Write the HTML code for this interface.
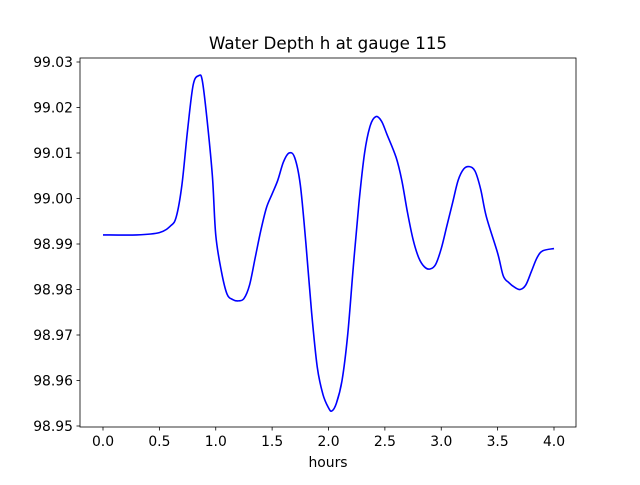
<!DOCTYPE html>
<html><head><meta charset="utf-8"><style>
body{margin:0;background:#fff;}
svg text{font-family:"DejaVu Sans","Liberation Sans",sans-serif;}
</style></head><body>
<svg width="640" height="480" xmlns="http://www.w3.org/2000/svg">
<rect width="640" height="480" fill="#fff"/>
<text x="328" y="49" font-size="16.7" text-anchor="middle">Water Depth h at gauge 115</text>
<g id="axes"></g>
<rect x="80" y="58" width="496" height="369" fill="none" stroke="#000" stroke-width="0.8"/>
<text x="328" y="467" font-size="13.9" text-anchor="middle">hours</text>
</svg>
<script>
const times=[0,0.3,0.5,0.6,0.65,0.7,0.75,0.8,0.85,0.88,0.92,0.97,1.0,1.05,1.1,1.15,1.2,1.25,1.3,1.35,1.4,1.45,1.5,1.55,1.6,1.65,1.7,1.75,1.8,1.85,1.9,1.95,2.0,2.03,2.07,2.12,2.17,2.22,2.27,2.32,2.37,2.42,2.47,2.52,2.6,2.65,2.7,2.75,2.8,2.85,2.9,2.95,3.0,3.05,3.1,3.15,3.2,3.25,3.3,3.35,3.4,3.5,3.55,3.6,3.65,3.7,3.75,3.8,3.85,3.9,4.0];
const depth=[98.992,98.992,98.9925,98.994,98.996,99.003,99.015,99.025,99.027,99.026,99.018,99.005,98.992,98.984,98.979,98.9778,98.9775,98.978,98.981,98.987,98.993,98.998,99.001,99.004,99.008,99.010,99.009,99.003,98.990,98.975,98.963,98.957,98.954,98.9533,98.955,98.960,98.970,98.985,98.999,99.010,99.016,99.018,99.017,99.014,99.009,99.004,98.997,98.991,98.987,98.985,98.9845,98.9855,98.989,98.994,98.999,99.004,99.0065,99.007,99.006,99.002,98.996,98.988,98.983,98.9815,98.9805,98.980,98.981,98.984,98.987,98.9885,98.989];
const xTicks=[0,0.5,1,1.5,2,2.5,3,3.5,4];
const xTickLabels=["0.0","0.5","1.0","1.5","2.0","2.5","3.0","3.5","4.0"];
const yTicks=[98.95,98.96,98.97,98.98,98.99,99.00,99.01,99.02,99.03];
const yTickLabels=["98.95","98.96","98.97","98.98","98.99","99.00","99.01","99.02","99.03"];
const NS="http://www.w3.org/2000/svg";
const X=t=>103+t*112.75;
const Y=v=>426-(v-98.95)/0.01*45.5;
const g=document.getElementById('axes');
function mk(tag,attrs){const e=document.createElementNS(NS,tag);for(const k in attrs)e.setAttribute(k,attrs[k]);g.appendChild(e);return e;}
xTicks.forEach((t,i)=>{
 const l=mk('line',{x1:X(t),x2:X(t),y1:427,y2:430.5,stroke:'#000','stroke-width':0.8});
 
 
 const tx=mk('text',{x:X(t),y:446,'font-size':13.9,'text-anchor':'middle'});
 tx.textContent=xTickLabels[i];
 
 
});
yTicks.forEach((v,i)=>{
 const l=mk('line',{x1:76.5,x2:80,y1:Y(v),y2:Y(v),stroke:'#000','stroke-width':0.8});
 
 
 const tx=mk('text',{x:73,y:Y(v)+5,'font-size':13.9,'text-anchor':'end'});
 tx.textContent=yTickLabels[i];
 
 
});
const pts=times.map((t,i)=>[X(t),Y(depth[i])]);
let d='M'+pts[0][0]+','+pts[0][1];
for(let i=0;i<pts.length-1;i++){
 const p0=pts[i-1]||pts[i],p1=pts[i],p2=pts[i+1],p3=pts[i+2]||p2;
 const c1=[p1[0]+(p2[0]-p0[0])/6,p1[1]+(p2[1]-p0[1])/6];
 const c2=[p2[0]-(p3[0]-p1[0])/6,p2[1]-(p3[1]-p1[1])/6];
 d+=` C${c1[0]},${c1[1]} ${c2[0]},${c2[1]} ${p2[0]},${p2[1]}`;
}
const path=mk('path',{d:d,fill:'none',stroke:'#0000ff','stroke-width':1.6});


</script>
</body></html>
